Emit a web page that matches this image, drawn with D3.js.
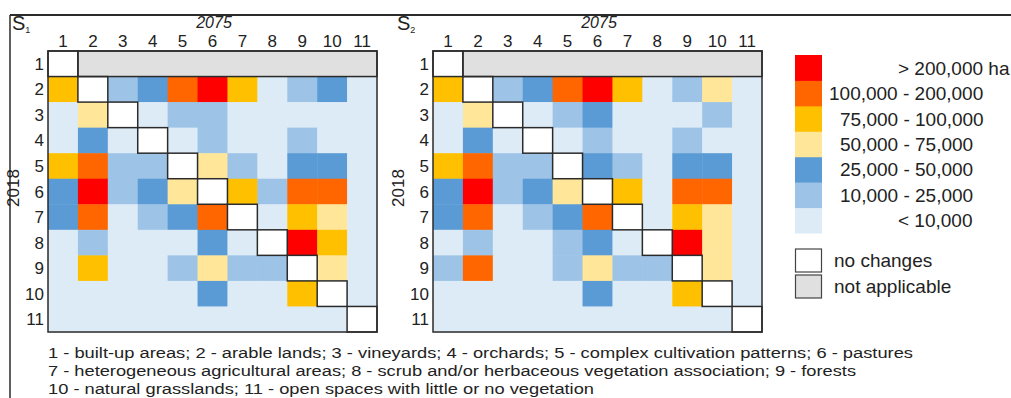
<!DOCTYPE html>
<html>
<head>
<meta charset="utf-8">
<title>Land use change matrices</title>
<script src="https://d3js.org/d3.v7.min.js"></script>
<style>
 html, body { margin: 0; padding: 0; background: #fff; }
 svg { display: block; font-family: "Liberation Sans", Arial, sans-serif; }
</style>
</head>
<body>
<div id="chart"></div>
<script>
// land use classes (same on both axes)
const classes = [1, 2, 3, 4, 5, 6, 7, 8, 9, 10, 11];

// area change classes, index = class code used in the matrices
const legendLabels = ["< 10,000", "10,000 - 25,000", "25,000 - 50,000", "50,000 - 75,000",
                      "75,000 - 100,000", "100,000 - 200,000", "> 200,000 ha"];
const legendColors = ["#ddebf7", "#9dc3e6", "#5b9bd5", "#ffe699", "#ffc000", "#ff6600", "#ff0000"];

// rows = 2018 class, cols = 2075 class; "d" = no changes, "n" = not applicable
const s1 = [
  ["d","n","n","n","n","n","n","n","n","n","n"],
  [4,"d",1,2,5,6,4,0,1,2,0],
  [0,3,"d",0,1,1,0,0,0,0,0],
  [0,2,0,"d",0,1,0,0,1,0,0],
  [4,5,1,1,"d",3,1,0,2,2,0],
  [2,6,1,2,3,"d",4,1,5,5,0],
  [2,5,0,1,2,5,"d",0,4,3,0],
  [0,1,0,0,0,2,0,"d",6,4,0],
  [0,4,0,0,1,3,1,1,"d",3,0],
  [0,0,0,0,0,2,0,0,4,"d",0],
  [0,0,0,0,0,0,0,0,0,0,"d"]
];
const s2 = [
  ["d","n","n","n","n","n","n","n","n","n","n"],
  [4,"d",1,2,5,6,4,0,1,3,0],
  [0,3,"d",0,1,2,0,0,0,1,0],
  [0,2,0,"d",0,1,0,0,1,0,0],
  [4,5,1,1,"d",2,1,0,2,2,0],
  [2,6,1,2,3,"d",4,0,5,5,0],
  [2,5,0,1,2,5,"d",0,4,3,0],
  [0,1,0,0,1,2,0,"d",6,3,0],
  [1,5,0,0,1,3,1,1,"d",3,0],
  [0,0,0,0,0,2,0,0,4,"d",0],
  [0,0,0,0,0,0,0,0,0,0,"d"]
];

const footnotes = [
  "1 - built-up areas; 2 - arable lands; 3 - vineyards; 4 - orchards; 5 - complex cultivation patterns; 6 - pastures",
  "7 - heterogeneous agricultural areas; 8 - scrub and/or herbaceous vegetation association; 9 - forests",
  "10 - natural grasslands; 11 - open spaces with little or no vegetation"
];

const W = 1011, H = 398;
const lineColor = "#2b2b2b";
const naColor = "#e0e0e0";
// rendered widths of the footnote lines (layout only)
const noteWidths = [865, 808, 546];

const svg = d3.select("#chart").append("svg")
  .attr("width", W).attr("height", H);

// frame lines (top and left)
svg.append("line").attr("x1", 10).attr("x2", W).attr("y1", 15).attr("y2", 15)
  .attr("stroke", lineColor).attr("stroke-width", 2);
svg.append("line").attr("x1", 10).attr("x2", 10).attr("y1", 15).attr("y2", H)
  .attr("stroke", lineColor).attr("stroke-width", 1.5);

const color = d3.scaleOrdinal().domain(d3.range(legendColors.length)).range(legendColors);

function drawMatrix(data, left, sub) {
  const x = d3.scaleBand().domain(classes).range([left, left + 329]);
  const y = d3.scaleBand().domain(classes).range([51, 332]);
  const g = svg.append("g");

  const cells = [];
  data.forEach((row, i) => row.forEach((v, j) => cells.push({r: classes[i], c: classes[j], v: v})));

  g.selectAll("rect.cell")
    .data(cells.filter(d => d.v !== "n"))
    .join("rect")
    .attr("class", "cell")
    .attr("x", d => x(d.c))
    .attr("y", d => y(d.r))
    .attr("width", x.bandwidth() + 0.5)
    .attr("height", y.bandwidth() + 0.5)
    .attr("fill", d => d.v === "d" ? "#fff" : color(d.v));

  // not applicable block in the first row
  const na = cells.filter(d => d.v === "n");
  g.append("rect")
    .attr("x", x(na[0].c)).attr("y", y(na[0].r))
    .attr("width", x(na[na.length - 1].c) + x.bandwidth() - x(na[0].c))
    .attr("height", y.bandwidth())
    .attr("fill", naColor).attr("stroke", lineColor).attr("stroke-width", 1.5);

  // no-change cells outlined
  g.selectAll("rect.diag")
    .data(cells.filter(d => d.v === "d"))
    .join("rect")
    .attr("class", "diag")
    .attr("x", d => x(d.c)).attr("y", d => y(d.r))
    .attr("width", x.bandwidth()).attr("height", y.bandwidth())
    .attr("fill", "none").attr("stroke", lineColor).attr("stroke-width", 1.5);

  // outer box
  g.append("rect")
    .attr("x", left).attr("y", 51).attr("width", 329).attr("height", 281)
    .attr("fill", "none").attr("stroke", lineColor).attr("stroke-width", 1.5);

  // column labels
  g.selectAll("text.col")
    .data(classes).join("text")
    .attr("class", "col")
    .attr("x", d => x(d) + x.bandwidth() / 2)
    .attr("y", 47)
    .attr("text-anchor", "middle")
    .attr("font-size", 17).attr("fill", "#222")
    .text(d => d);

  // row labels
  g.selectAll("text.row")
    .data(classes).join("text")
    .attr("class", "row")
    .attr("x", left - 4)
    .attr("y", d => y(d) + y.bandwidth() / 2 + 6)
    .attr("text-anchor", "end")
    .attr("font-size", 17).attr("fill", "#222")
    .text(d => d);

  g.append("text")
    .attr("x", left + 166).attr("y", 28)
    .attr("text-anchor", "middle")
    .attr("font-size", 16).attr("font-style", "italic").attr("fill", "#222")
    .text("2075");

  g.append("text")
    .attr("transform", `translate(${left - 29},188) rotate(-90)`)
    .attr("text-anchor", "middle")
    .attr("font-size", 17).attr("fill", "#222")
    .text("2018");

  const st = g.append("text")
    .attr("x", left - 36).attr("y", 30)
    .attr("font-size", 20).attr("fill", "#222");
  st.append("tspan").text("S");
  st.append("tspan").attr("font-size", 9).attr("dy", 3).text(sub);
}

drawMatrix(s1, 48, "1");
drawMatrix(s2, 433, "2");

// legend (highest class on top)
const ly = d3.scaleBand().domain(d3.range(legendColors.length).reverse()).range([55, 233]);
const lg = svg.append("g");
lg.selectAll("rect")
  .data(d3.range(legendColors.length)).join("rect")
  .attr("x", 795).attr("y", d => ly(d))
  .attr("width", 27).attr("height", ly.bandwidth() + 0.5)
  .attr("fill", d => color(d));
lg.selectAll("text")
  .data(d3.range(legendLabels.length)).join("text")
  .attr("x", d => d === 0 || d === 6 ? 898 : (d === 5 ? 829 : 840))
  .attr("y", d => ly(d) + ly.bandwidth() / 2 + 7)
  .attr("font-size", 19).attr("fill", "#222")
  .text(d => legendLabels[d]);

const extra = [{label: "no changes", fill: "#fff", y: 249}, {label: "not applicable", fill: naColor, y: 275}];
lg.selectAll("rect.extra")
  .data(extra).join("rect")
  .attr("class", "extra")
  .attr("x", 795.5).attr("y", d => d.y)
  .attr("width", 26).attr("height", 23)
  .attr("fill", d => d.fill).attr("stroke", "#444").attr("stroke-width", 1.2);
lg.selectAll("text.extra")
  .data(extra).join("text")
  .attr("class", "extra")
  .attr("x", 834).attr("y", d => d.y + 18)
  .attr("font-size", 19).attr("fill", "#222")
  .text(d => d.label);

// footnote with class names
svg.selectAll("text.note")
  .data(footnotes).join("text")
  .attr("class", "note")
  .attr("x", 48)
  .attr("y", (d, i) => 358 + i * 18)
  .attr("font-size", 15.5).attr("fill", "#222")
  .attr("textLength", (d, i) => noteWidths[i])
  .attr("lengthAdjust", "spacingAndGlyphs")
  .text(d => d);
</script>
</body>
</html>
